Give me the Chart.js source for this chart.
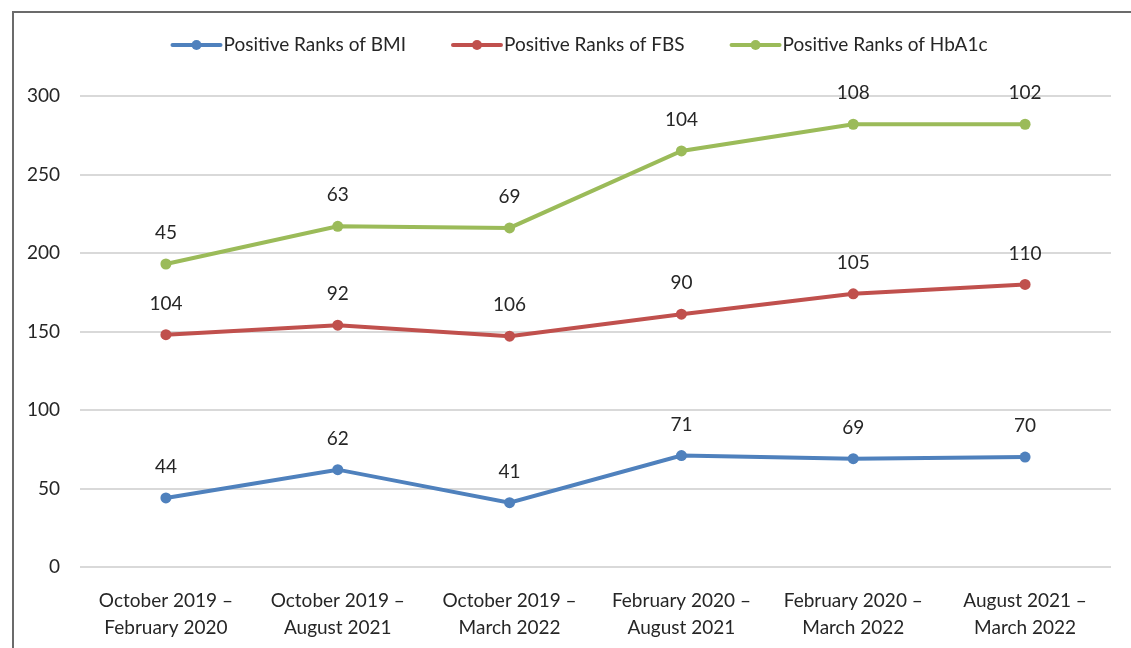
<!DOCTYPE html>
<html>
<head>
<meta charset="utf-8">
<script src="https://cdn.jsdelivr.net/npm/chart.js@4.4.0/dist/chart.umd.min.js"></script>
<style>
    html, body { margin: 0; padding: 0; background: #fff; overflow: hidden; }
    #wrap { position: relative; width: 1131px; height: 648px; }
    #frame {
        position: absolute; left: 12px; top: 11px; width: 1200px; height: 700px;
        border-left: 2px solid #6b6b6b; border-top: 2px solid #6b6b6b;
        pointer-events: none;
    }
</style>
</head>
<body>
<div id="wrap">
    <canvas id="ranksChart" width="1131" height="648"></canvas>
    <div id="frame"></div>
</div>
<script>
// Chart values (stacked line chart, labels show each series' own value)
const periods = [
    ['October 2019 –', 'February 2020'],
    ['October 2019 –', 'August 2021'],
    ['October 2019 –', 'March 2022'],
    ['February 2020 –', 'August 2021'],
    ['February 2020 –', 'March 2022'],
    ['August 2021 –', 'March 2022']
];
const bmiRanks = [44, 62, 41, 71, 69, 70];
const fbsRanks = [104, 92, 106, 90, 105, 110];
const hba1cRanks = [45, 63, 69, 104, 108, 102];
const seriesNames = ['Positive Ranks of BMI', 'Positive Ranks of FBS', 'Positive Ranks of HbA1c'];
const seriesColors = ['#4f81bd', '#c0504d', '#9bbb59'];
const yMin = 0, yMax = 300, yStep = 50;

const FONT = 'Lato, "Noto Sans", sans-serif';
const TEXT_COLOR = '#262626';

// Draws the value above every point
const valueLabels = {
    id: 'valueLabels',
    afterDatasetsDraw(chart) {
        const ctx = chart.ctx;
        ctx.save();
        ctx.font = '19px ' + FONT;
        ctx.fillStyle = TEXT_COLOR;
        ctx.textAlign = 'center';
        ctx.textBaseline = 'middle';
        chart.data.datasets.forEach((ds, i) => {
            const meta = chart.getDatasetMeta(i);
            meta.data.forEach((pt, j) => {
                ctx.fillText(String(ds.data[j]), pt.x, pt.y - 31);
            });
        });
        ctx.restore();
    }
};

// Legend: line with a dot, then the name, centred on top
const lineLegend = {
    id: 'lineLegend',
    afterDraw(chart) {
        const ctx = chart.ctx;
        const y = 45;
        const lineLen = 48;
        const gap = 47;
        ctx.save();
        ctx.font = '19px ' + FONT;
        const items = chart.data.datasets.map(ds => ({
            label: ds.label,
            color: ds.borderColor,
            w: lineLen + 3 + ctx.measureText(ds.label).width
        }));
        const total = items.reduce((s, it) => s + it.w, 0) + gap * (items.length - 1);
        let x = 580 - total / 2;
        items.forEach(it => {
            ctx.strokeStyle = it.color;
            ctx.lineWidth = 4;
            ctx.lineCap = 'round';
            ctx.beginPath();
            ctx.moveTo(x, y);
            ctx.lineTo(x + lineLen, y);
            ctx.stroke();
            ctx.fillStyle = it.color;
            ctx.beginPath();
            ctx.arc(x + lineLen / 2, y, 5, 0, Math.PI * 2);
            ctx.fill();
            ctx.fillStyle = TEXT_COLOR;
            ctx.textAlign = 'left';
            ctx.textBaseline = 'middle';
            ctx.fillText(it.label, x + lineLen + 3, y);
            x += it.w + gap;
        });
        ctx.restore();
    }
};

const datasets = [bmiRanks, fbsRanks, hba1cRanks].map((vals, i) => ({
    label: seriesNames[i],
    data: vals,
    borderColor: seriesColors[i],
    backgroundColor: seriesColors[i],
    borderWidth: 4,
    pointRadius: 5.5,
    pointHoverRadius: 5.5,
    pointBorderWidth: 0,
    fill: false,
    tension: 0
}));

new Chart(document.getElementById('ranksChart'), {
    type: 'line',
    data: { labels: periods, datasets: datasets },
    plugins: [valueLabels, lineLegend],
    options: {
        responsive: false,
        animation: false,
        layout: { padding: { top: 96, right: 20, bottom: 0, left: 0 } },
        plugins: {
            legend: { display: false },
            tooltip: { enabled: false },
            title: { display: false }
        },
        scales: {
            x: {
                offset: true,
                grid: { display: false, drawTicks: false },
                border: { display: false },
                ticks: {
                    color: TEXT_COLOR,
                    font: { family: FONT, size: 19, lineHeight: 1.45 },
                    padding: 20,
                    maxRotation: 0,
                    autoSkip: false
                },
                afterFit(scale) { scale.height = 81; }
            },
            y: {
                stacked: true,
                min: yMin,
                max: yMax,
                grid: { color: '#d9d9d9', lineWidth: 2, drawTicks: false },
                border: { display: false },
                ticks: {
                    stepSize: yStep,
                    color: TEXT_COLOR,
                    font: { family: FONT, size: 19 },
                    padding: 20
                },
                afterFit(scale) { scale.width = 80; }
            }
        }
    }
});
</script>
</body>
</html>
